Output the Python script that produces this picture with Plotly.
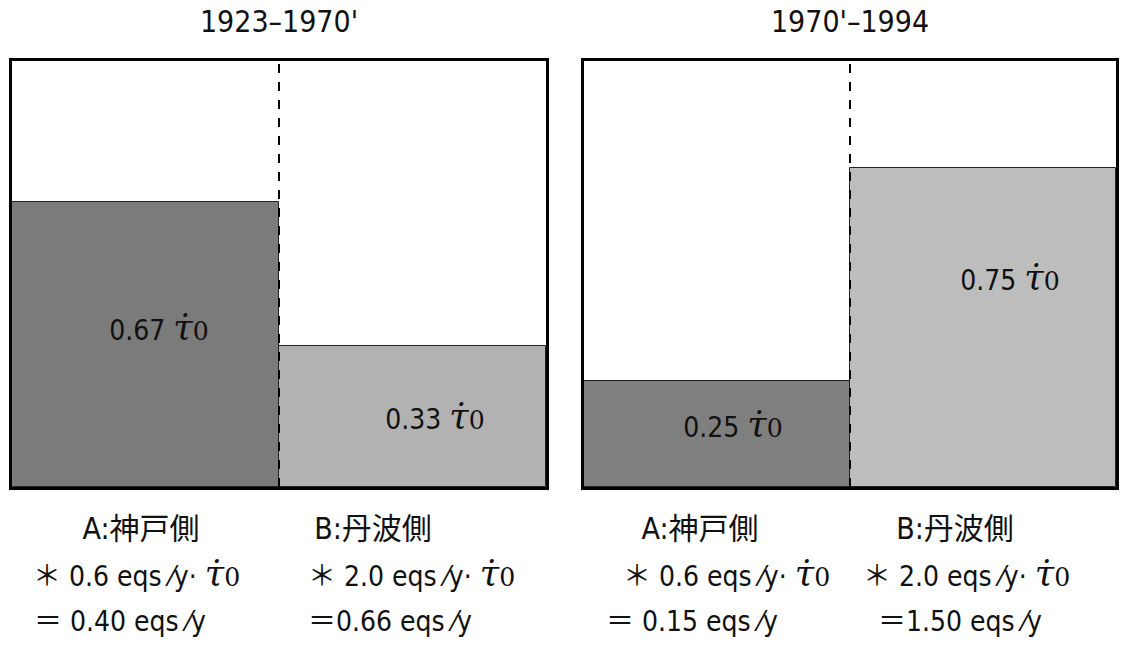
import plotly.graph_objects as go

periods = ["1923\u20131970'", "1970'\u20131994"]
sides = ["A", "B"]
side_names = ["A:神戸側", "B:丹波側"]
share_p1 = [0.67, 0.33]
share_p2 = [0.25, 0.75]
rates = [0.6, 2.0]          # eqs/y per unit
result_p1 = ["0.40", "0.66"]
result_p2 = ["0.15", "1.50"]

panel_colors = [["#7b7b7b", "#b2b2b2"], ["#7f7f7f", "#bdbdbd"]]
FONT = "DejaVu Sans Condensed, Noto Sans CJK JP, sans-serif"
TAU = ("<span style='font-family:DejaVu Serif;font-size:1.25em'><i>\u03c4\u0307</i></span>"
       "<span style='font-family:DejaVu Serif;font-size:0.9em'>0</span>")

W, H = 1124, 669
def px(x): return x / W
def py(y): return 1 - y / H

fig = go.Figure()
shares = [share_p1, share_p2]
for i, s in enumerate(shares):
    ax = "" if i == 0 else "2"
    fig.add_trace(go.Bar(
        x=sides, y=s, xaxis="x" + ax, yaxis="y" + ax,
        marker=dict(color=panel_colors[i], line=dict(color="#222", width=1)),
        width=1.0, showlegend=False, hoverinfo="skip"))

axis_common = dict(showline=True, mirror=True, linecolor="black", linewidth=3,
                   showticklabels=False, ticks="", showgrid=False, zeroline=False)
ybot, ytop = py(487), py(61)
fig.update_layout(
    width=W, height=H, margin=dict(l=0, r=0, t=0, b=0),
    paper_bgcolor="white", plot_bgcolor="rgba(0,0,0,0)", bargap=0,
    xaxis=dict(domain=[px(12), px(546)], range=[-0.5, 1.5], anchor="y", **axis_common),
    yaxis=dict(domain=[ybot, ytop], range=[0, 1], anchor="x", **axis_common),
    xaxis2=dict(domain=[px(584), px(1116)], range=[-0.5, 1.5], anchor="y2", **axis_common),
    yaxis2=dict(domain=[ybot, ytop], range=[0, 1], anchor="x2", **axis_common),
    # full-page overlay axes in pixel units, used only to place text
    xaxis3=dict(domain=[0, 1], range=[0, W], anchor="y3", visible=False, fixedrange=True),
    yaxis3=dict(domain=[0, 1], range=[H, 0], anchor="x3", visible=False, fixedrange=True),
)

# dashed dividers
for ax, ay in [("x", "y"), ("x2", "y2")]:
    fig.add_shape(type="line", xref=ax, yref=ay, x0=0.5, x1=0.5, y0=0, y1=1,
                  line=dict(color="black", width=2, dash="dash"))

def add_text(xs, ys, texts, size, pos="middle center"):
    fig.add_trace(go.Scatter(
        x=xs, y=ys, text=texts, mode="text", textposition=pos,
        textfont=dict(family=FONT, size=size, color="#111"),
        xaxis="x3", yaxis="y3", showlegend=False, hoverinfo="skip",
        cliponaxis=False))

# titles
add_text([279, 850], [24, 24], periods, 30)

# bar labels
label_x = [[159, 435], [733, 1010]]
label_y = [[333, 422], [430, 283]]
for i, s in enumerate(shares):
    add_text(label_x[i], label_y[i], [f"{v:.2f} " + TAU for v in s], 28)

# bottom texts
row1_x = [[141, 373], [700, 955]]
row2_x = [[33, 308], [623, 863]]
row3_x = [[34, 308], [606, 878]]
results = [result_p1, result_p2]
for i in range(2):
    add_text(row1_x[i], [531, 531], side_names, 30)
    add_text(row2_x[i], [579, 579],
             [f"\uff0a {rates[j]:.1f} eqs \u2044y\u00b7 " + TAU for j in range(2)],
             28, "middle right")
    add_text(row3_x[i], [624, 624],
             [("\uff1d " if j == 0 else "\uff1d") + f"{results[i][j]} eqs \u2044y" for j in range(2)],
             28, "middle right")

fig.write_html("out.html", post_script="document.body.style.margin='0';",
               config={"displayModeBar": False})
